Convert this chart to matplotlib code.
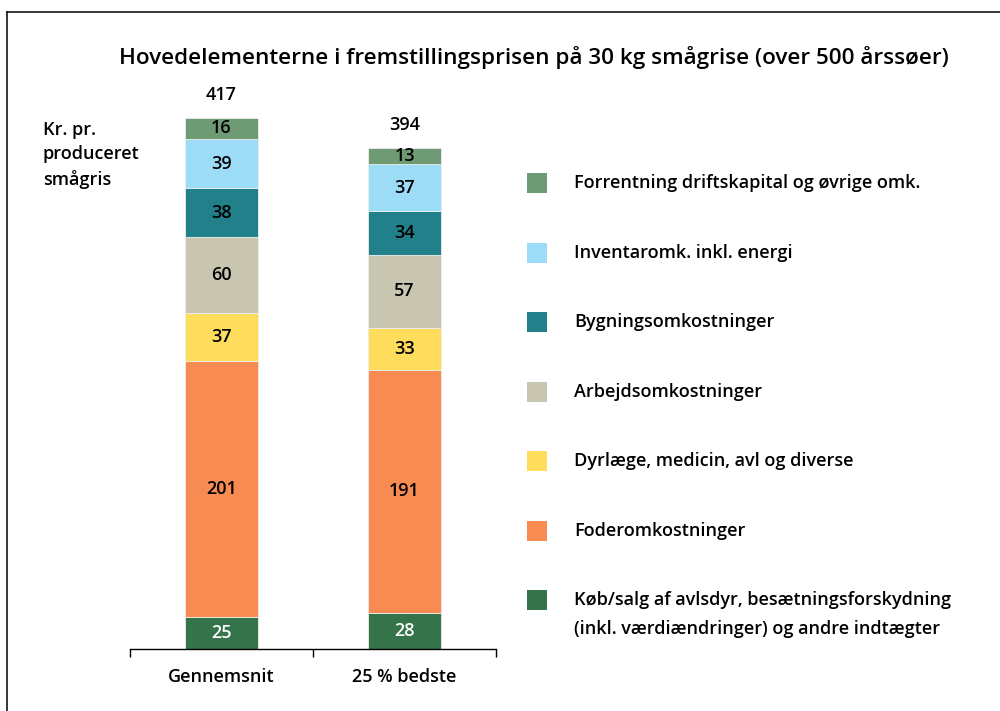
import matplotlib
matplotlib.use("Agg")
import matplotlib.pyplot as plt
from matplotlib.patches import Rectangle
from matplotlib.lines import Line2D
import numpy as np

plt.rcParams['font.family'] = ['Open Sans', 'DejaVu Sans']

categories = ["Gennemsnit", "25 % bedste"]
totals = [417, 394]
series_names = [
    "Køb/salg af avlsdyr, besætningsforskydning\n(inkl. værdiændringer) og andre indtægter",
    "Foderomkostninger",
    "Dyrlæge, medicin, avl og diverse",
    "Arbejdsomkostninger",
    "Bygningsomkostninger",
    "Inventaromk. inkl. energi",
    "Forrentning driftskapital og øvrige omk.",
]
values = {
    "kob": [25, 28],
    "foder": [201, 191],
    "dyrlaege": [37, 33],
    "arbejd": [60, 57],
    "bygning": [38, 34],
    "inventar": [39, 37],
    "forrentning": [16, 13],
}
colors = ["#35734A", "#F78B52", "#FFDD5C", "#C8C6B1", "#21808A", "#9DDCF7", "#6E9A74"]
label_colors = ["white", "black", "black", "black", "black", "black", "black"]

W = "semibold"
FS = 13

fig = plt.figure(figsize=(10, 7.11), dpi=100)
ax = fig.add_axes([0.130, (711 - 649) / 711, 0.366, 569 / 711])

x = np.arange(len(categories))
bottom = np.zeros(len(categories))
for (key, vals), col, lc in zip(values.items(), colors, label_colors):
    vals = np.array(vals, dtype=float)
    ax.bar(x, vals, width=0.40, bottom=bottom, color=col,
           edgecolor="#EDEDED", linewidth=0.6)
    for xi, b, v in zip(x, bottom, vals):
        ax.text(xi, b + v / 2, f"{int(v)}", ha="center", va="center",
                fontsize=FS, color=lc, fontweight=W)
    bottom += vals

for xi, b, t in zip(x, bottom, totals):
    ax.text(xi, b + 18, f"{t}", ha="center", va="center", fontsize=FS,
            color="black", fontweight=W)

ax.set_xlim(-0.5, 1.5)
ax.set_ylim(0, 446)
for s in ["top", "right", "left"]:
    ax.spines[s].set_visible(False)
ax.spines["bottom"].set_linewidth(1.0)
ax.set_yticks([])
ax.set_xticks(x)
ax.set_xticklabels(categories, fontsize=FS, fontweight=W)
ax.tick_params(axis="x", which="major", length=0, pad=14)
ax.set_xticks([-0.5, 0.5, 1.5], minor=True)
ax.tick_params(axis="x", which="minor", length=6, width=1.0, direction="out")

# y label
fig.text(43 / 1000, 1 - 155 / 711, "Kr. pr.\nproduceret\nsmågris", ha="left", va="center",
         fontsize=FS, fontweight=W, linespacing=1.45)

# title
fig.text(534 / 1000, 1 - 58 / 711,
         "Hovedelementerne i fremstillingsprisen på 30 kg smågrise (over 500 årssøer)",
         ha="center", va="center", fontsize=16.2, fontweight=W)

# legend (manual)
leg_y = [600, 531, 461, 392, 322, 253, 183]
for name, col, yy in zip(series_names, colors, leg_y):
    fig.add_artist(Rectangle((527 / 1000, 1 - (yy + 10) / 711), 20 / 1000, 20 / 711,
                             transform=fig.transFigure, facecolor=col, edgecolor="none"))
    lines = name.split("\n")
    for i, ln in enumerate(lines):
        fig.text(574 / 1000, 1 - (yy + 29 * i) / 711, ln, ha="left", va="center",
                 fontsize=FS, fontweight=W)

# frame
fig.add_artist(Line2D([7 / 1000, 1.0], [1 - 12 / 711] * 2, color="black", lw=1.1,
                      transform=fig.transFigure))
fig.add_artist(Line2D([7 / 1000, 7 / 1000], [0, 1 - 12 / 711], color="black", lw=1.1,
                      transform=fig.transFigure))

fig.savefig("out.png", dpi=100)
